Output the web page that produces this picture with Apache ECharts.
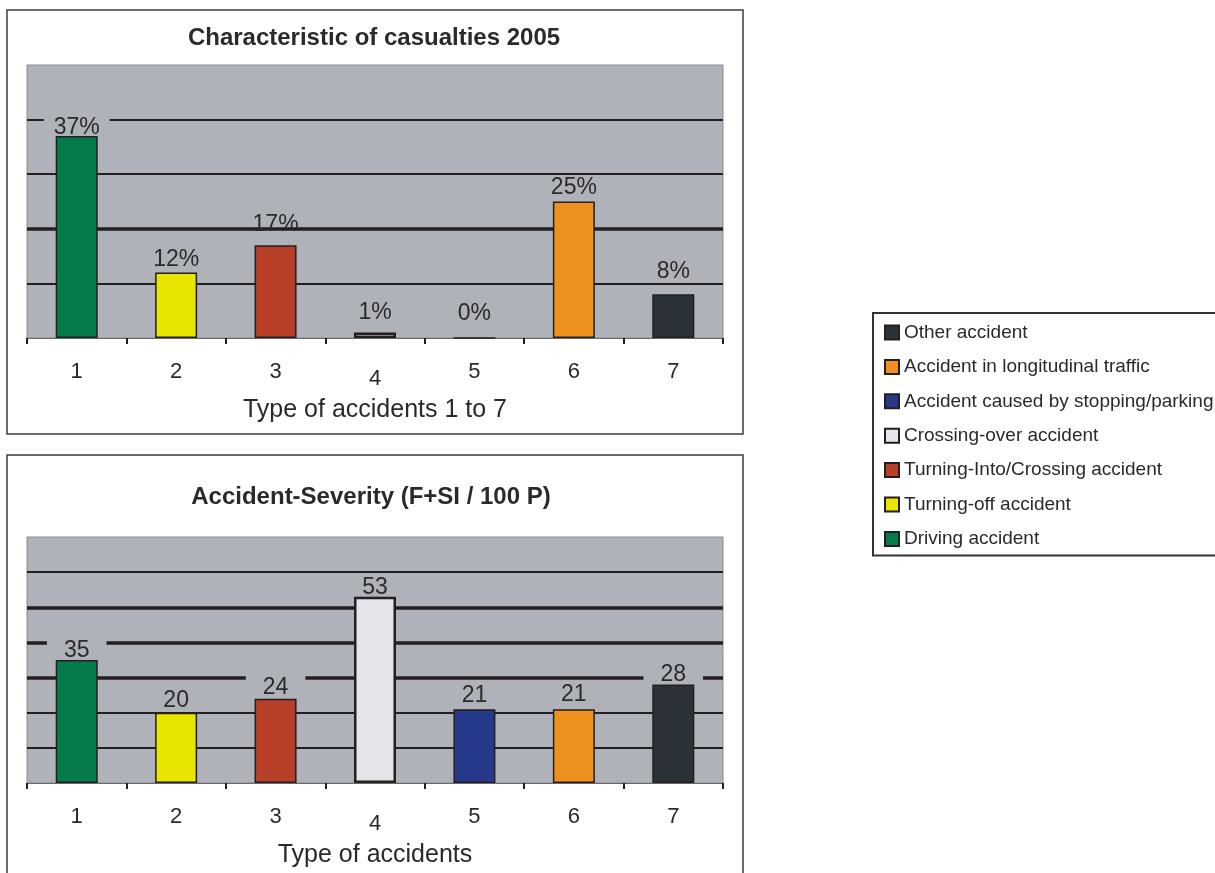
<!DOCTYPE html>
<html>
<head>
<meta charset="utf-8">
<script src="https://cdn.jsdelivr.net/npm/echarts@6/dist/echarts.min.js"></script>
<style>
  html, body { margin: 0; padding: 0; background: #ffffff; }
  #chart { width: 1215px; height: 873px; }
</style>
</head>
<body>
<div id="chart"></div>
<script>
// ---- data ----
const categories = ['1', '2', '3', '4', '5', '6', '7'];
const accidentTypes = [
  'Driving accident',
  'Turning-off accident',
  'Turning-Into/Crossing accident',
  'Crossing-over accident',
  'Accident caused by stopping/parking',
  'Accident in longitudinal traffic',
  'Other accident'
];
const casualtyShare = [37, 12, 17, 1, 0, 25, 8];     // % of casualties 2005
const severityRate = [35, 20, 24, 53, 21, 21, 28];   // F+SI per 100 P
const shareTicks = [0, 10, 20, 30, 40, 50];
const severityTicks = [0, 10, 20, 30, 40, 50, 60, 70];

// ---- styling ----
const typeColors = ['#067b4a', '#e8e500', '#b83f28', '#e4e5ea', '#27398a', '#ee911f', '#2b3339'];
const plotGray = '#b0b2b9';
const ink = '#231f20';
const textInk = '#2a2a2a';
const FONT = 'Liberation Sans, Arial, sans-serif';

// gap between bar top and its value label
const shareLabelGap = [0, 1, 9, 8, 12, 2, 11];
const severityLabelGap = [1, 1, 3, -2, 2, 3, 1];
// horizontal padding of labels that punch through a gridline (0 = no backdrop)
const shareLabelCut = [10, 0, 0, 0, 0, 0, 0];
const severityLabelCut = [17, 0, 17, 0, 0, 0, 17];
// gridlines drawn heavier
const shareHeavy = [20];
const severityHeavy = [30, 40, 50];

const chart = echarts.init(document.getElementById('chart'), null, { renderer: 'canvas' });

function makeSeries(values, idx, gaps, cuts, suffix) {
  return accidentTypes.map((name, i) => ({
    name: name,
    type: 'bar',
    xAxisIndex: idx,
    yAxisIndex: idx,
    barWidth: 42,
    barGap: '-100%',
    itemStyle: {
      color: typeColors[i],
      borderColor: ink,
      borderWidth: i === 3 ? 2.5 : 1.5
    },
    label: Object.assign({
      show: true,
      position: 'top',
      distance: gaps[i],
      formatter: p => p.value + suffix,
      fontSize: 23,
      fontFamily: FONT,
      color: textInk
    }, cuts[i]
      ? { backgroundColor: plotGray, padding: [4, cuts[i], 0, cuts[i]], lineHeight: 17 }
      : { backgroundColor: 'transparent', padding: 0 }),
    data: values.map((v, j) => (j === i ? v : '-'))
  }));
}

function xAxisFor(idx, name) {
  return {
    type: 'category',
    gridIndex: idx,
    data: categories,
    name: name,
    nameLocation: 'middle',
    nameGap: 60,
    nameTextStyle: { fontSize: 25, color: textInk, fontFamily: FONT },
    axisLine: { show: true, lineStyle: { color: '#6a6a6a', width: 1 } },
    axisTick: { show: true, length: 6, lineStyle: { color: ink, width: 2 } },
    axisLabel: {
      margin: 23,
      fontSize: 22,
      color: textInk,
      fontFamily: FONT,
      formatter: v => (v === '4' ? '{low|' + v + '}' : v),
      rich: { low: { fontSize: 22, fontFamily: FONT, color: textInk, padding: [7, 0, 0, 0] } }
    },
    splitLine: { show: false }
  };
}

function yAxesFor(idx, ticks, heavy) {
  const min = ticks[0], max = ticks[ticks.length - 1], step = ticks[1] - ticks[0];
  const base = {
    type: 'value', gridIndex: idx, min: min, max: max, interval: step,
    axisLine: { show: false }, axisTick: { show: false }, axisLabel: { show: false }
  };
  return [
    Object.assign({}, base, {
      splitLine: { show: true, showMinLine: false, showMaxLine: false, lineStyle: { color: ink, width: 2 } }
    }),
    Object.assign({}, base, {
      splitLine: {
        show: true, showMinLine: false, showMaxLine: false,
        lineStyle: { color: ticks.slice(1).map(v => (heavy.includes(v) ? ink : 'rgba(0,0,0,0)')), width: 3.5 }
      }
    })
  ];
}

const option = {
  animation: false,
  backgroundColor: '#ffffff',
  textStyle: { fontFamily: FONT },
  graphic: [
    { type: 'rect', shape: { x: 7, y: 10, width: 736, height: 424 }, style: { fill: '#ffffff', stroke: '#3c3c3c', lineWidth: 1.5 }, z: -10 },
    { type: 'rect', shape: { x: 7, y: 455, width: 736, height: 430 }, style: { fill: '#ffffff', stroke: '#3c3c3c', lineWidth: 1.5 }, z: -10 }
  ],
  title: [
    { text: 'Characteristic of casualties 2005', left: 374, top: 26, textAlign: 'center', padding: 0,
      textStyle: { fontSize: 24, fontWeight: 'bold', color: textInk, fontFamily: FONT } },
    { text: 'Accident-Severity (F+SI / 100 P)', left: 371, top: 485, textAlign: 'center', padding: 0,
      textStyle: { fontSize: 24, fontWeight: 'bold', color: textInk, fontFamily: FONT } }
  ],
  legend: {
    orient: 'vertical',
    left: 873,
    top: 313,
    data: accidentTypes.slice().reverse(),
    selectedMode: false,
    icon: 'rect',
    itemWidth: 14,
    itemHeight: 14,
    itemGap: 15.4,
    padding: [10, 60, 7, 11],
    borderColor: '#333333',
    borderWidth: 2,
    textStyle: { fontSize: 19, color: textInk, fontFamily: FONT, lineHeight: 19 }
  },
  grid: [
    { left: 27, top: 65, width: 696, height: 273, show: true, backgroundColor: plotGray, borderColor: '#8c8c8c', borderWidth: 1 },
    { left: 27, top: 537, width: 696, height: 246, show: true, backgroundColor: plotGray, borderColor: '#8c8c8c', borderWidth: 1 }
  ],
  xAxis: [
    xAxisFor(0, 'Type of accidents 1 to 7'),
    xAxisFor(1, 'Type of accidents')
  ],
  yAxis: [].concat(yAxesFor(0, shareTicks, shareHeavy), yAxesFor(1, severityTicks, severityHeavy)),
  series: [].concat(
    makeSeries(casualtyShare, 0, shareLabelGap, shareLabelCut, '%'),
    makeSeries(severityRate, 1, severityLabelGap, severityLabelCut, '')
  )
};

// the second chart's bars use the lower grid's first value axis (index 2)
option.series.forEach((s, k) => { if (k >= accidentTypes.length) s.yAxisIndex = 2; });

chart.setOption(option);
</script>
</body>
</html>
